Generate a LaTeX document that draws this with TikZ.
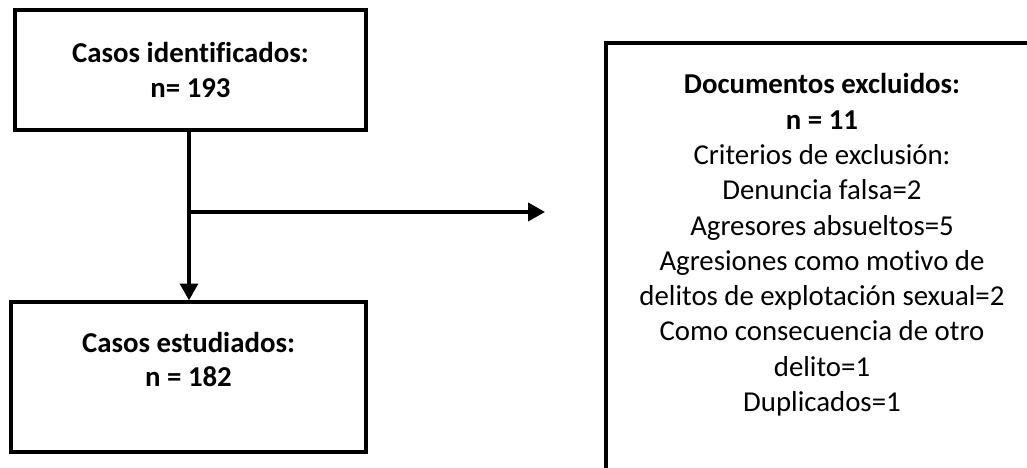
\documentclass[tikz,border=0pt]{standalone}
\usepackage{fontspec}
\setmainfont{Carlito}[Ligatures=CommonOff]
\usetikzlibrary{arrows.meta}
\begin{document}
\begin{tikzpicture}[line width=2.4pt,
    box/.style={rectangle,draw,inner sep=0pt,align=center,font=\fontsize{20.5}{24.5}\selectfont},
    arr/.style={-{Triangle[length=0.42cm,width=0.45cm]}}]
  \clip (0,0) rectangle (25.675,11.7);
  \node[box,minimum width=8.775cm,minimum height=3cm] (id) at (4.7625,9.95) {\textbf{Casos identificados:}\\\textbf{n= 193}};
  \node[box,minimum width=8.875cm,minimum height=3.75cm] (est) at (4.7125,2.275) {\textbf{Casos estudiados:}\\\textbf{n = 182}\\[-0.25cm]\strut};
  \node[box,minimum width=10.8cm,minimum height=10.925cm,font=\fontsize{20.5}{25.1}\selectfont] (exc) at (20.55,5.1625) {\textbf{Documentos excluidos:}\\\textbf{n = 11}\\Criterios de exclusión:\\Denuncia falsa=2\\Agresores absueltos=5\\Agresiones como motivo de\\delitos de explotación sexual=2\\Como consecuencia de otro\\delito=1\\Duplicados=1\\[-0.2cm]\strut};
  \coordinate (sp) at (4.725,6.4);\coordinate (gap) at (13.625,6.4);
  \draw [arr] (id.south-|sp)--(est.north-|sp);
  \draw [arr] (sp)--(gap);
\end{tikzpicture}
\end{document}
